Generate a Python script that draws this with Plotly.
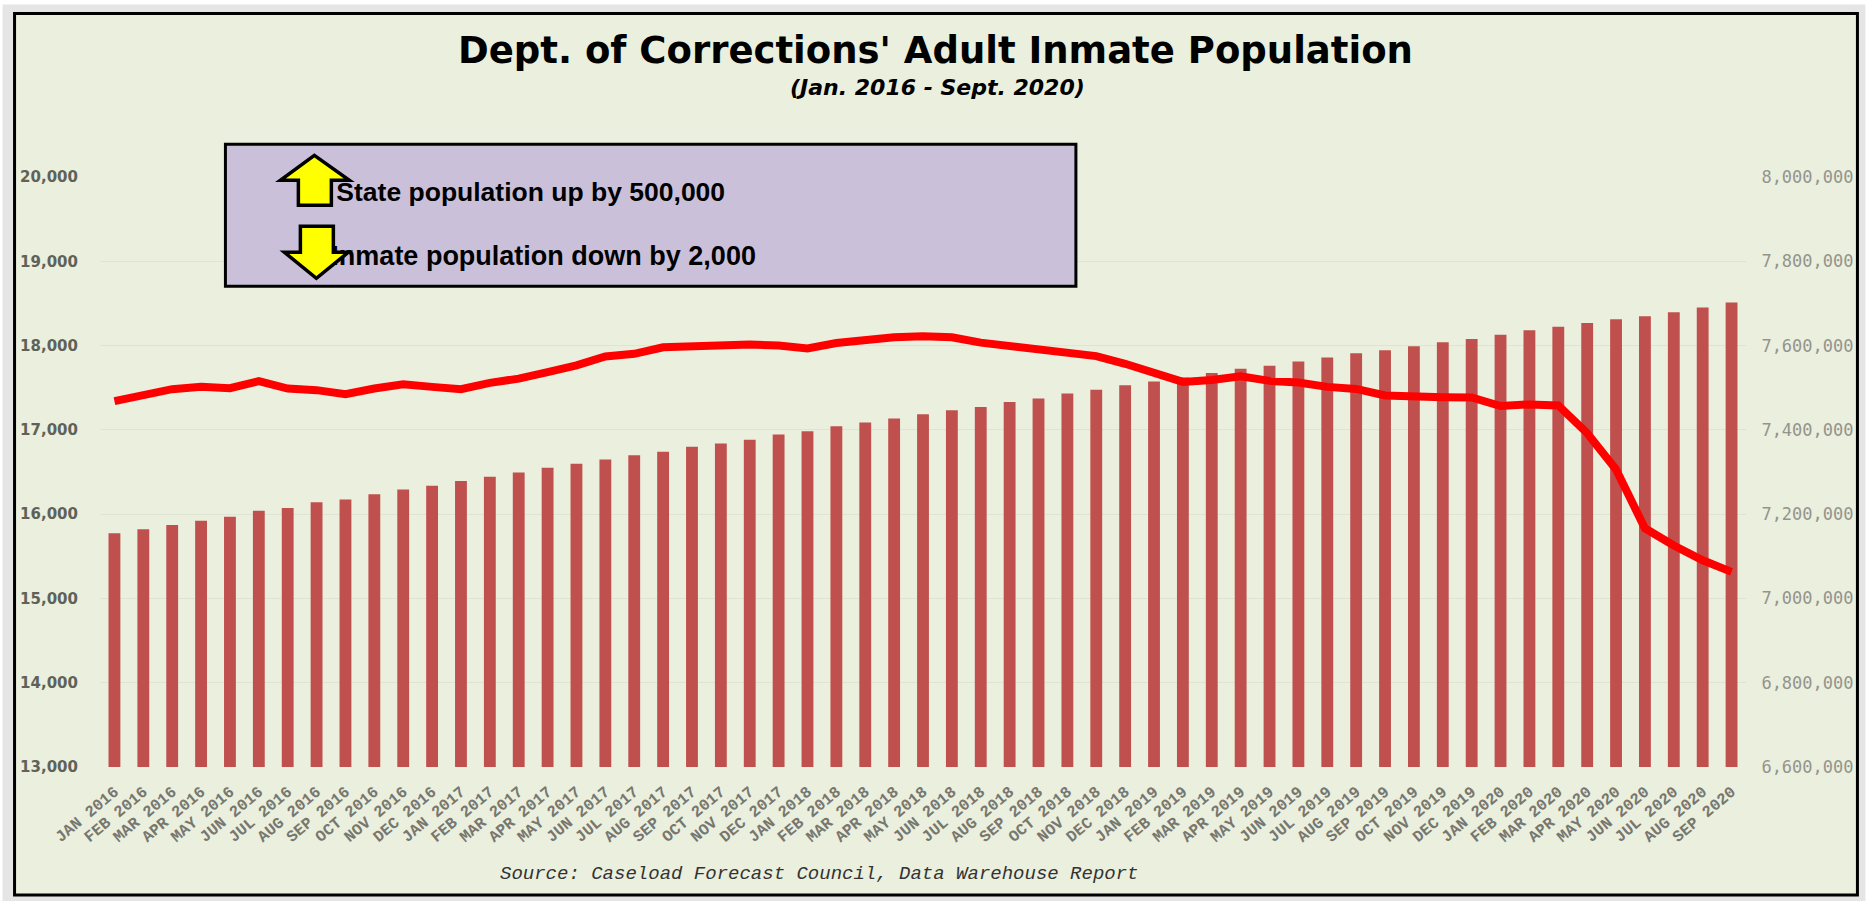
import plotly.graph_objects as go

months = ["JAN", "FEB", "MAR", "APR", "MAY", "JUN", "JUL", "AUG", "SEP", "OCT", "NOV", "DEC"]
categories = [f"{months[i % 12]} {2016 + i // 12}" for i in range(57)]

state_population = [
    7154700, 7164100, 7174300, 7184500, 7193900, 7208000, 7214300, 7228400, 7234600, 7247200,
    7258200, 7267600, 7278600, 7288800, 7298900, 7309900, 7319300, 7329500, 7339700, 7348300,
    7360100, 7367900, 7376600, 7389100, 7396900, 7408700, 7417300, 7426700, 7436900, 7446300,
    7454200, 7465900, 7474600, 7486300, 7494900, 7505900, 7514500, 7524000, 7534900, 7545100,
    7552200, 7562400, 7571800, 7582000, 7589000, 7598400, 7607800, 7615700, 7625900, 7636100,
    7644700, 7653300, 7662700, 7669800, 7679200, 7690200, 7702000,
]
inmate_population = [
    17341, 17400, 17483, 17510, 17494, 17577, 17490, 17471, 17424, 17490,
    17541, 17510, 17483, 17557, 17608, 17686, 17765, 17871, 17902, 17980,
    17996, 18012, 18012, 18000, 17965, 18031, 18071, 18098, 18112, 18098,
    18035, 17996, 17941, 17910, 17875, 17784, 17679, 17569, 17592, 17635,
    17581, 17561, 17510, 17486, 17408, 17388, 17388, 17385, 17283, 17302,
    17290, 16961, 16530, 15832, 15628, 15452, 15315,
]
left_ticks = [13000, 14000, 15000, 16000, 17000, 18000, 19000, 20000]
right_ticks = [6600000, 6800000, 7000000, 7200000, 7400000, 7600000, 7800000, 8000000]

W, H = 1869, 904
L, R, T, B = 99.5, 1746.5, 176.7, 767.0


def px(x):
    return (x - L) / (R - L)


def py(y):
    return (B - y) / (B - T)


def rect(x0, y0, x1, y1, **kw):
    return dict(type="rect", xref="paper", yref="paper", x0=px(x0), x1=px(x1), y0=py(y0), y1=py(y1), **kw)


def poly(points, **kw):
    d = "M " + " L ".join(f"{px(x):.5f} {py(y):.5f}" for x, y in points) + " Z"
    return dict(type="path", xref="paper", yref="paper", path=d, **kw)


BG = "#eaefde"
ARROW = dict(fillcolor="#ffff00", line=dict(color="#000000", width=3.5), layer="above")
TXT1 = dict(family="Liberation Sans", size=26.5, color="#000000")
TXT2 = dict(family="Liberation Sans", size=27, color="#000000")

shapes = [
    rect(2, 4, 1866, 901, fillcolor="#e5e5e5", line=dict(width=0), layer="below"),
    rect(14, 13, 1858, 895, fillcolor=BG, line=dict(color="#000000", width=3), layer="below"),
    rect(225, 144, 1076, 286, fillcolor="#cbc0da", line=dict(color="#000000", width=3), layer="above"),
    rect(333, 171, 800, 207, fillcolor="rgba(0,0,0,0)", line=dict(width=0), layer="above",
         label=dict(text="<b>State population up by 500,000</b>", textposition="middle left", font=TXT1, padding=0)),
    rect(328, 235, 800, 271, fillcolor="rgba(0,0,0,0)", line=dict(width=0), layer="above",
         label=dict(text="<b>Inmate population down by 2,000</b>", textposition="middle left", font=TXT2, padding=0)),
    poly([(314, 155), (349, 180), (331, 180), (331, 205), (298, 205), (298, 180), (280, 180)], **ARROW),
    poly([(300, 226), (333, 226), (333, 252), (348, 252), (316, 278), (284, 252), (300, 252)], **ARROW),
]

annotations = [
    dict(text="<b>Dept. of Corrections' Adult Inmate Population</b>", xref="paper", yref="paper",
         x=px(936), y=py(50), xanchor="center", yanchor="middle", showarrow=False,
         font=dict(family="DejaVu Sans", size=37, color="#000000")),
    dict(text="<b><i>(Jan. 2016 - Sept. 2020)</i></b>", xref="paper", yref="paper",
         x=px(938), y=py(87), xanchor="center", yanchor="middle", showarrow=False,
         font=dict(family="DejaVu Sans", size=22, color="#000000")),
    dict(text="<i>Source: Caseload Forecast Council, Data Warehouse Report</i>", xref="paper", yref="paper",
         x=px(819), y=py(874), xanchor="center", yanchor="middle", showarrow=False,
         font=dict(family="Liberation Mono", size=19, color="#333333")),
]

fig = go.Figure()
fig.add_trace(go.Bar(x=categories, y=state_population, yaxis="y", marker=dict(color="#c0504d", line=dict(width=0)),
                     width=0.41, name="State population"))
fig.add_trace(go.Scatter(x=categories, y=inmate_population, yaxis="y2", mode="lines",
                         line=dict(color="#ff0000", width=8), name="Inmate population"))

fig.update_layout(
    width=W, height=H, autosize=False,
    margin=dict(l=L, r=W - R, t=T, b=H - B, pad=0),
    paper_bgcolor="#ffffff", plot_bgcolor="rgba(0,0,0,0)",
    showlegend=False, bargap=0.59,
    shapes=shapes, annotations=annotations,
    xaxis=dict(type="category", range=[-0.5, 56.5], tickangle=-40, tickmode="array", tickvals=categories,
               ticktext=[f"<b>{c}</b>" for c in categories], ticks="outside", ticklen=8,
               tickcolor="rgba(0,0,0,0)", showgrid=False, showline=False, zeroline=False,
               tickfont=dict(family="Liberation Mono", size=16, color="#77776f")),
    yaxis=dict(side="right", range=[6600000, 8000000], tickmode="array", tickvals=right_ticks,
               ticktext=[f"{v:,}" for v in right_ticks], showgrid=True, gridcolor="#dfe3d2", gridwidth=1,
               showline=False, zeroline=False, ticks="outside", ticklen=11, tickcolor="rgba(0,0,0,0)",
               tickfont=dict(family="DejaVu Sans Mono", size=17, color="#94948c")),
    yaxis2=dict(side="left", overlaying="y", range=[13000, 20000], tickmode="array", tickvals=left_ticks,
                ticktext=[f"<b>{v:,}</b>" for v in left_ticks], showgrid=False, showline=False, zeroline=False,
                ticks="outside", ticklen=18, tickcolor="rgba(0,0,0,0)",
                tickfont=dict(family="DejaVu Sans", size=15, color="#5f6258")),
)

fig.write_html("out.html", config=dict(displayModeBar=False),
               post_script="document.body.style.margin='0';document.body.style.overflow='hidden';")
